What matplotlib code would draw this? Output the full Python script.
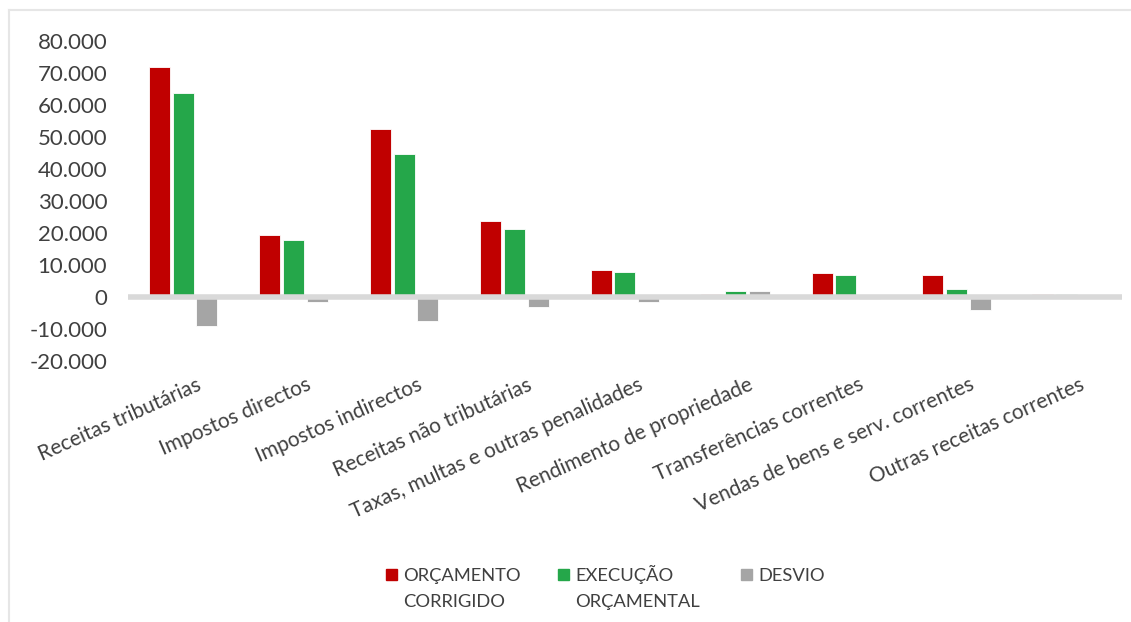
import matplotlib
matplotlib.use("Agg")
import matplotlib.pyplot as plt
from matplotlib.patches import Rectangle
from matplotlib.lines import Line2D
from matplotlib.ticker import FuncFormatter
import numpy as np

plt.rcParams['font.family'] = ['Lato', 'DejaVu Sans']

categories = [
    "Receitas tributárias",
    "Impostos directos",
    "Impostos indirectos",
    "Receitas não tributárias",
    "Taxas, multas e outras penalidades",
    "Rendimento de propriedade",
    "Transferências correntes",
    "Vendas de bens e serv. correntes",
    "Outras receitas correntes",
]
orcamento = [71800, 19400, 52300, 23700, 8300, 850, 7500, 6700, 800]
execucao = [63500, 17700, 44700, 21200, 7600, 1800, 6700, 2500, 900]
desvio = [-9000, -1700, -7500, -3300, -1700, 1700, -800, -4200, 100]

series = [
    ("ORÇAMENTO\nCORRIGIDO", orcamento, "#C00000"),
    ("EXECUÇÃO\nORÇAMENTAL", execucao, "#25A74A"),
    ("DESVIO", desvio, "#A5A5A5"),
]

text_color = "#404040"

fig = plt.figure(figsize=(11.31, 6.22), dpi=100)
ax = fig.add_axes([0.1132, 0.420, 0.8788, 0.5146])

x = np.arange(len(categories))
width = 0.19
step = 0.215
for i, (name, vals, color) in enumerate(series):
    ax.bar(x + (i - 1) * step, vals, width, color=color,
           edgecolor="white", linewidth=0.6, zorder=2)

ax.set_xlim(-0.5, len(categories) - 0.5)
ax.set_ylim(-20000, 80000)
ax.set_yticks(np.arange(-20000, 80001, 10000))
ax.yaxis.set_major_formatter(
    FuncFormatter(lambda v, p: f"{int(v):,}".replace(",", ".")))
ax.axhline(0, color="#D9D9D9", linewidth=4, zorder=3)

for s in ax.spines.values():
    s.set_visible(False)
ax.tick_params(axis="y", length=0, pad=15, labelsize=16, labelcolor=text_color)
ax.tick_params(axis="x", length=0)
ax.set_xticks(x)
ax.set_xticklabels([])

# rotated category labels under the plot
for xi, lab in zip(x, categories):
    ax.annotate(lab, xy=(xi, -20000), xycoords="data",
                xytext=(9, -10), textcoords="offset points",
                rotation=24, rotation_mode="anchor",
                ha="right", va="top", fontsize=15, color=text_color)

# legend entries with wrapped labels
legend_x = [386, 558, 741]
for (name, vals, color), lx in zip(series, legend_x):
    fig.patches.append(Rectangle((lx / 1131, 1 - 580 / 622), 11 / 1131, 11 / 622,
                                 transform=fig.transFigure, color=color))
    for k, line in enumerate(name.split("\n")):
        fig.text((lx + 17) / 1131, 1 - (581 + 26 * k) / 622, line, fontsize=13.2,
                 color=text_color, va="baseline", ha="left")

# outer frame lines
fig.add_artist(Line2D([9 / 1131, 1130 / 1131], [1 - 10 / 622, 1 - 10 / 622],
                      transform=fig.transFigure, color="#E6E6E6", linewidth=1.5))
fig.add_artist(Line2D([9 / 1131, 9 / 1131], [0, 1 - 10 / 622],
                      transform=fig.transFigure, color="#E6E6E6", linewidth=1.5))

fig.savefig("out.png", dpi=100, facecolor="white")
